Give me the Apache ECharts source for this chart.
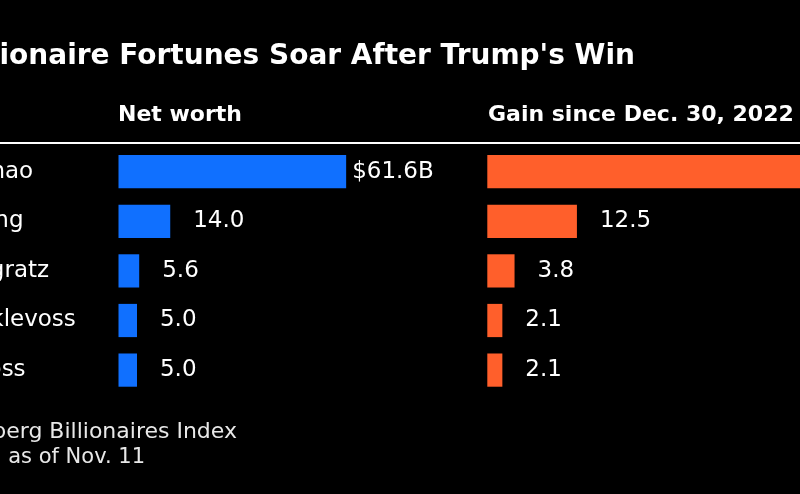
<!DOCTYPE html>
<html>
<head>
<meta charset="utf-8">
<style>
  html, body { margin: 0; padding: 0; background: #000; }
  #chart { width: 800px; height: 494px; }
</style>
<script src="https://cdn.jsdelivr.net/npm/echarts@6/dist/echarts.min.js"></script>
</head>
<body>
<div id="chart"></div>
<script>
const names = ['Changpeng Zhao', 'Brian Armstrong', 'Michael Novogratz', 'Cameron Winklevoss', 'Tyler Winklevoss'];
const netWorth = [61.6, 14.0, 5.6, 5.0, 5.0];
const gainSince2022 = [51.1, 12.5, 3.8, 2.1, 2.1];

const titleText = "Crypto Billionaire Fortunes Soar After Trump's Win";
const header1 = 'Net worth';
const header2 = 'Gain since Dec. 30, 2022';
const sourceText = 'Source: Bloomberg Billionaires Index';
const noteText = 'Note: Net worth as of Nov. 11';

const FONT = '"DejaVu Sans", sans-serif';
const BLUE = '#1070ff';
const ORANGE = '#ff5f2b';

const chart = echarts.init(document.getElementById('chart'), null, { renderer: 'canvas' });

function fmt(v, i) { return i === 0 ? '$' + v.toFixed(1) + 'B' : v.toFixed(1); }
function items(arr) {
  return arr.map((v, i) => ({ value: v, label: { distance: i === 0 ? 6 : 23 } }));
}

const labelStyle = {
  show: true, position: 'right', color: '#fff', fontFamily: FONT, fontSize: 23,
  formatter: p => fmt(p.value, p.dataIndex)
};

chart.setOption({
  backgroundColor: '#000',
  animation: false,
  grid: [
    { left: 118.5, top: 146.9, width: 255, height: 248, containLabel: false, outerBoundsMode: 'none' },
    { left: 487.3, top: 146.9, width: 430.2, height: 248, containLabel: false, outerBoundsMode: 'none' }
  ],
  xAxis: [
    { gridIndex: 0, type: 'value', min: 0, max: 69, show: false },
    { gridIndex: 1, type: 'value', min: 0, max: 60, show: false }
  ],
  yAxis: [
    { gridIndex: 0, type: 'category', inverse: true, data: names,
      axisLine: { show: false }, axisTick: { show: false }, splitLine: { show: false },
      axisLabel: { align: 'left', margin: 283, color: '#fff', fontFamily: FONT, fontSize: 23 } },
    { gridIndex: 1, type: 'category', inverse: true, data: names, show: false }
  ],
  series: [
    { type: 'bar', xAxisIndex: 0, yAxisIndex: 0, data: items(netWorth),
      barCategoryGap: '33%', itemStyle: { color: BLUE }, label: labelStyle },
    { type: 'bar', xAxisIndex: 1, yAxisIndex: 1, data: items(gainSince2022),
      barCategoryGap: '33%', itemStyle: { color: ORANGE }, label: labelStyle }
  ],
  graphic: [
    { type: 'text', style: { text: titleText, x: 635, y: 56.5, textAlign: 'right', textVerticalAlign: 'middle',
        font: 'bold 28px ' + FONT, fill: '#fff' } },
    { type: 'text', style: { text: header1, x: 118, y: 115.3, textAlign: 'left', textVerticalAlign: 'middle',
        font: 'bold 22px ' + FONT, fill: '#fff' } },
    { type: 'text', style: { text: header2, x: 488, y: 115.3, textAlign: 'left', textVerticalAlign: 'middle',
        font: 'bold 22px ' + FONT, fill: '#fff' } },
    { type: 'rect', shape: { x: 0, y: 142, width: 800, height: 2 }, style: { fill: '#fff' } },
    { type: 'text', style: { text: sourceText, x: 237, y: 432.3, textAlign: 'right', textVerticalAlign: 'middle',
        font: '22px ' + FONT, fill: '#e8e8e8' } },
    { type: 'text', style: { text: noteText, x: 145, y: 457.3, textAlign: 'right', textVerticalAlign: 'middle',
        font: '21px ' + FONT, fill: '#e8e8e8' } }
  ]
});
</script>
</body>
</html>
